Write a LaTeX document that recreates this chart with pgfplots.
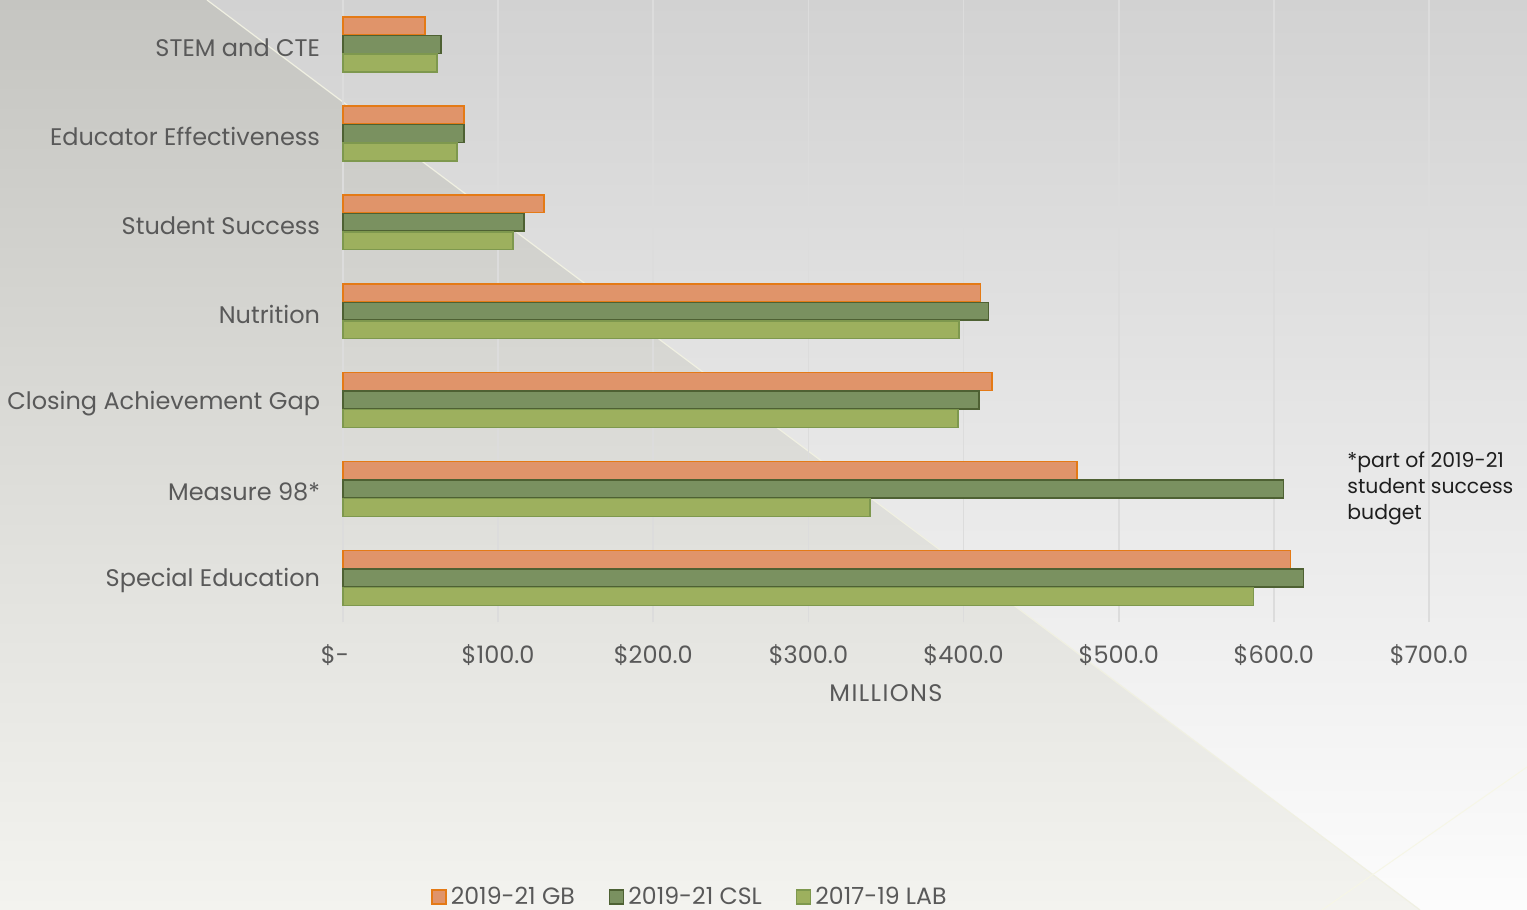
\documentclass[border=0pt]{standalone}
\usepackage{pgfplots}
\pgfplotsset{compat=1.18}
\usepackage{fontspec}
\setmainfont{Poppins}
\definecolor{txt}{RGB}{89,89,89}
\definecolor{gbfill}{RGB}{224,148,106}
\definecolor{gbdraw}{RGB}{228,122,22}
\definecolor{cslfill}{RGB}{122,145,96}
\definecolor{csldraw}{RGB}{78,97,51}
\definecolor{labfill}{RGB}{157,176,94}
\definecolor{labdraw}{RGB}{126,152,78}
\definecolor{gridc}{RGB}{220,220,220}
\begin{document}
\begin{tikzpicture}
\useasboundingbox (-171.5pt,-143.8pt) rectangle (592pt,311.2pt);
\clip (-171.5pt,-143.8pt) rectangle (592pt,311.2pt);
\begin{scope}[shift={(-171.5pt,311.2pt)},x=0.5pt,y=-0.5pt]
  \shade[top color={rgb,255:red,210;green,210;blue,210}, bottom color={rgb,255:red,252;green,252;blue,252}] (0,0) rectangle (1527,910);
  \shade[top color={rgb,255:red,197;green,197;blue,193}, bottom color={rgb,255:red,243;green,243;blue,239}] (0,0) -- (207,0) -- (1420,910) -- (0,910) -- cycle;
  \draw[color={rgb,255:red,240;green,240;blue,226}, line width=0.6pt] (207,0) -- (1420,910);
  \draw[color={rgb,255:red,246;green,246;blue,230}, line width=0.5pt] (1322,910) -- (1527,767);
\end{scope}
\begin{axis}[
  scale only axis,
  width=543pt, height=311.2pt,
  xmin=0, xmax=700, ymin=-0.5, ymax=6.5,
  axis line style={draw=none},
  major tick length=0pt,
  xtick={0,100,...,700},
  xticklabels={\$-\hspace*{8pt},\$100.0,\$200.0,\$300.0,\$400.0,\$500.0,\$600.0,\$700.0},
  ytick={0,...,6},
  yticklabels={Special Education,Measure 98*,Closing Achievement Gap,Nutrition,Student Success,Educator Effectiveness,STEM and CTE},
  xmajorgrids, grid style={gridc, line width=0.8pt},
  tick label style={font=\fontsize{12}{14}\selectfont, text=txt, inner sep=0pt, outer sep=0pt},
  xticklabel style={yshift=-11pt},
  yticklabel style={xshift=-11.5pt, yshift=-1.5pt},
  xlabel={\addfontfeatures{LetterSpace=6}MILLIONS},
  xlabel style={at={(axis description cs:0.5,0)}, anchor=base, yshift=-39.3pt, inner sep=0pt, font=\fontsize{12}{14}\selectfont, text=txt},
  legend style={at={(0.3204,-0.4412)}, anchor=center, legend columns=3, draw=none, fill=none,
    font=\fontsize{11.8}{14}\selectfont, text=txt,
    /tikz/every even column/.append style={column sep=15pt}},
  legend cell align=left,
  legend image code/.code={\draw[#1, line width=0.75pt] (0pt,-3.5pt) rectangle (7pt,3.5pt);},
  clip=false,
]
\addplot[xbar, bar width=0.2, bar shift=0.208, fill=gbfill, draw=gbdraw, line width=0.75pt] coordinates {
  (610.8,0) (473,1) (418.2,2) (411,3) (129.5,4) (78,5) (52.8,6)};
\addlegendentry{2019-21 GB}
\addplot[xbar, bar width=0.2, bar shift=0, fill=cslfill, draw=csldraw, line width=0.75pt] coordinates {
  (619.2,0) (606.3,1) (409.8,2) (416.2,3) (116.6,4) (78,5) (63.1,6)};
\addlegendentry{2019-21 CSL}
\addplot[xbar, bar width=0.2, bar shift=-0.208, fill=labfill, draw=labdraw, line width=0.75pt] coordinates {
  (587,0) (339.6,1) (396.3,2) (397,3) (109.5,4) (73.5,5) (60.6,6)};
\addlegendentry{2017-19 LAB}
\end{axis}
\begin{scope}[shift={(-171.5pt,311.2pt)},x=0.5pt,y=-0.5pt]
  \node[anchor=north west, align=left, inner sep=0pt, font=\fontsize{10.2}{13}\selectfont, text={rgb,255:red,30;green,30;blue,30}] at (1347,452) {*part of 2019-21\\student success\\budget};
\end{scope}
\end{tikzpicture}
\end{document}
